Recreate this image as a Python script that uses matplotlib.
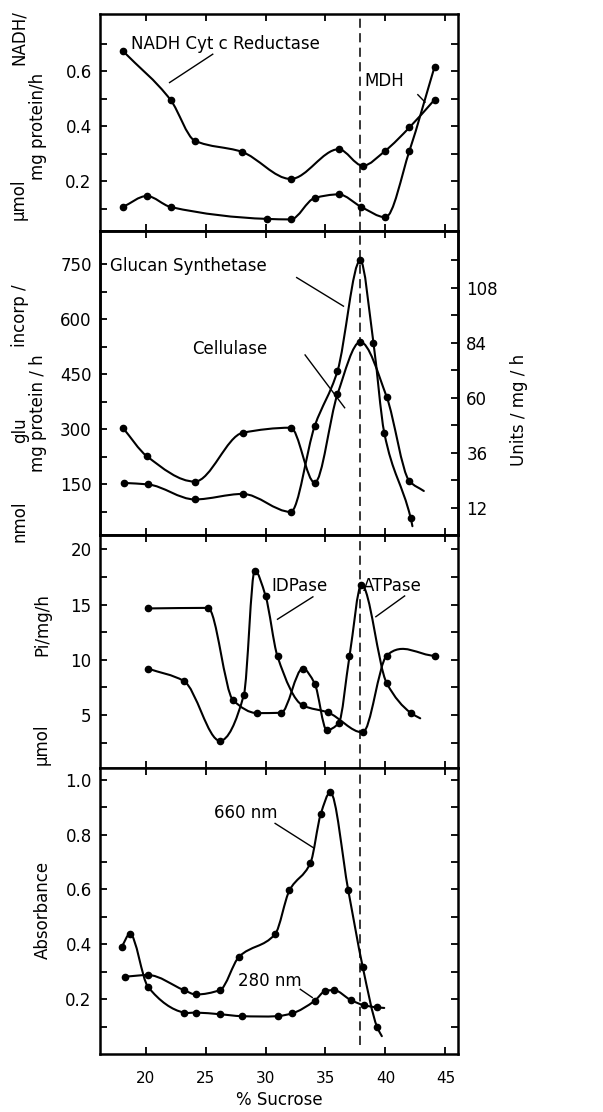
import numpy as np
import matplotlib
matplotlib.use("Agg")
import matplotlib.pyplot as plt
from matplotlib.path import Path
from matplotlib.patches import PathPatch

# ---------------- data ----------------
sucrose_ticks = [20, 25, 30, 35, 40, 45]
sucrose_labels = ["20", "25", "30", "35", "40", "45"]
marker_line = 37.9   # dashed reference line (% sucrose)

# Panel 1: umol NADH / mg protein / h
nadh_x = [18.1, 22.1, 24.1, 28.0, 32.1, 36.1, 38.1, 40.0, 42.0, 44.1]
nadh_y = [0.674, 0.495, 0.348, 0.308, 0.209, 0.317, 0.257, 0.312, 0.396, 0.497]
mdh_x = [18.1, 20.1, 22.1, 30.1, 32.1, 34.1, 36.1, 38.0, 40.0, 42.0, 44.1]
mdh_y = [0.107, 0.147, 0.107, 0.064, 0.062, 0.140, 0.153, 0.107, 0.070, 0.311, 0.617]
p1_ticks = [0.1, 0.2, 0.3, 0.4, 0.5, 0.6, 0.7]
p1_labels = ["", "0.2", "", "0.4", "", "0.6", ""]

# Panel 2: glucan synthetase (nmol glu incorp / mg protein / h) and cellulase (units / mg / h)
glucan_x = [18.2, 20.2, 24.1, 28.1, 32.1, 34.1, 36.0, 37.9, 39.0, 39.9, 42.1]
glucan_y = [154, 150, 109, 124, 75, 309, 459, 761, 536, 291, 59]
glucan_tail = (42.25, 36)
cellulase_x = [18.1, 20.1, 24.1, 28.1, 32.1, 34.1, 36.0, 37.9, 40.1, 42.0]
cellulase_y = [46.9, 34.5, 23.4, 44.7, 46.9, 22.9, 61.5, 84.3, 60.4, 23.6]
cellulase_tail = (43.2, 19.3)
p2_ticks = [75, 150, 225, 300, 375, 450, 525, 600, 675, 750]
p2_labels = ["", "150", "", "300", "", "450", "", "600", "", "750"]
p2r_ticks = [12, 24, 36, 48, 60, 72, 84, 96, 108, 120]
p2r_labels = ["12", "", "36", "", "60", "", "84", "", "108", ""]

# Panel 3: umol Pi / mg / h
idpase_x = [20.2, 23.2, 26.2, 28.2, 29.1, 30.0, 31.0, 33.1, 35.2, 38.1, 40.1, 44.1]
idpase_y = [9.2, 8.07, 2.66, 6.85, 18.07, 15.8, 10.3, 5.87, 5.23, 3.42, 10.37, 10.37]
atpase_x = [20.2, 25.2, 27.3, 29.3, 31.3, 33.1, 34.1, 35.1, 36.1, 37.0, 38.0, 40.1, 42.1]
atpase_y = [14.65, 14.7, 6.33, 5.17, 5.2, 9.2, 7.85, 3.64, 4.25, 10.3, 16.8, 7.9, 5.2]
atpase_tail = (42.9, 4.7)
p3_ticks = [2.5, 5, 7.5, 10, 12.5, 15, 17.5, 20]
p3_labels = ["", "5", "", "10", "", "15", "", "20"]

# Panel 4: absorbance
a660_x = [18.3, 20.2, 23.2, 24.2, 26.2, 27.8, 30.8, 32.0, 33.75, 34.6, 35.4, 36.9, 38.1, 39.3]
a660_y = [0.282, 0.288, 0.233, 0.217, 0.233, 0.355, 0.437, 0.597, 0.697, 0.874, 0.954, 0.597, 0.319, 0.099]
a660_tail = (39.7, 0.065)
a280_x = [18.0, 18.7, 20.2, 23.2, 24.2, 26.2, 28.0, 31.0, 32.2, 34.1, 35.0, 35.7, 37.1, 38.2, 39.3]
a280_y = [0.39, 0.438, 0.245, 0.151, 0.151, 0.145, 0.138, 0.138, 0.148, 0.194, 0.23, 0.233, 0.197, 0.178, 0.17]
a280_tail = (39.9, 0.168)
p4_ticks = [0.1, 0.2, 0.3, 0.4, 0.5, 0.6, 0.7, 0.8, 0.9, 1.0]
p4_labels = ["", "0.2", "", "0.4", "", "0.6", "", "0.8", "", "1.0"]

# ---------------- helpers ----------------
def smooth_path(xs, ys):
    """Smooth Bezier path through the measured points (drawn by matplotlib)."""
    x = np.asarray(xs, float)
    y = np.asarray(ys, float)
    n = len(x)
    h = np.diff(x)
    d = np.diff(y) / h
    m = np.empty(n)
    m[0] = d[0]
    m[-1] = d[-1]
    for i in range(1, n - 1):
        p = d[i - 1] * d[i]
        if p < 0:
            m[i] = 0.0
        elif p == 0:
            m[i] = 0.3 * (d[i - 1] + d[i])
        else:
            w1 = 2 * h[i] + h[i - 1]
            w2 = h[i] + 2 * h[i - 1]
            m[i] = (w1 + w2) / (w1 / d[i - 1] + w2 / d[i])
    # limit overshoot
    for i in range(n - 1):
        if d[i] == 0:
            continue
        a = m[i] / d[i]
        b = m[i + 1] / d[i]
        r = a * a + b * b
        if r > 9:
            t = 3 / np.sqrt(r)
            m[i] = t * a * d[i]
            m[i + 1] = t * b * d[i]
    verts = [(x[0], y[0])]
    codes = [Path.MOVETO]
    for i in range(n - 1):
        hh = h[i]
        verts += [(x[i] + hh / 3, y[i] + m[i] * hh / 3),
                  (x[i + 1] - hh / 3, y[i + 1] - m[i + 1] * hh / 3),
                  (x[i + 1], y[i + 1])]
        codes += [Path.CURVE4] * 3
    return Path(verts, codes)


def draw_series(ax, xs, ys, tail=None):
    lx, ly = list(xs), list(ys)
    if tail is not None:
        lx.append(tail[0])
        ly.append(tail[1])
    ax.add_patch(PathPatch(smooth_path(lx, ly), fill=False, edgecolor="black",
                           lw=1.5, capstyle="round", joinstyle="round"))
    ax.plot(xs, ys, "o", color="black", ms=4.5, ls="none")


def style(ax, right=True, bottom_labels=False):
    ax.set_xlim(16.2, 46.05)
    ax.set_xticks(sucrose_ticks)
    if bottom_labels:
        ax.set_xticklabels(sucrose_labels)
    else:
        ax.set_xticklabels([])
    ax.tick_params(axis="both", which="both", direction="in", length=5, width=1.3,
                   top=True, right=right, labelsize=12, pad=6)
    ax.tick_params(axis="x", labelsize=11, pad=12)
    for s in ax.spines.values():
        s.set_linewidth(1.8)


W, H = 603, 1112
fig = plt.figure(figsize=(W / 100, H / 100), dpi=100)
L = 100 / W
Wd = 358 / W


def frac_box(top_px, bot_px):
    return [L, 1 - bot_px / H, Wd, (bot_px - top_px) / H]


ax1 = fig.add_axes(frac_box(14, 231))
ax2 = fig.add_axes(frac_box(231, 535))
ax3 = fig.add_axes(frac_box(535, 768))
ax4 = fig.add_axes(frac_box(768, 1054))

dash = (0, (6, 3.5))

# ---- Panel 1 ----
style(ax1)
ax1.set_ylim(0.02, 0.808)
ax1.set_yticks(p1_ticks)
ax1.set_yticklabels(p1_labels)
draw_series(ax1, nadh_x, nadh_y)
draw_series(ax1, mdh_x, mdh_y)
ax1.axvline(marker_line, color="black", lw=1.1, ls=dash)
ax1.text(18.75, 0.699, "NADH Cyt c Reductase", fontsize=12, va="center", ha="left")
ax1.plot([25.6, 22.0], [0.662, 0.559], color="black", lw=1)
ax1.text(38.25, 0.563, "MDH", fontsize=12, va="center", ha="left")
ax1.plot([42.7, 43.3], [0.515, 0.488], color="black", lw=1)

# ---- Panel 2 ----
style(ax2, right=False)
ax2.set_ylim(12, 841)
ax2.set_yticks(p2_ticks)
ax2.set_yticklabels(p2_labels)
ax2r = ax2.twinx()
ax2r.set_ylim(0.1, 132.7)
ax2r.set_yticks(p2r_ticks)
ax2r.set_yticklabels(p2r_labels)
ax2r.tick_params(axis="y", direction="in", length=5, width=1.3, labelsize=12, pad=6)
for s in ax2r.spines.values():
    s.set_linewidth(1.8)
draw_series(ax2, glucan_x, glucan_y, glucan_tail)
draw_series(ax2r, cellulase_x, cellulase_y, cellulase_tail)
ax2.axvline(marker_line, color="black", lw=1.1, ls=dash)
ax2.text(17.0, 745, "Glucan Synthetase", fontsize=12, va="center", ha="left")
ax2.plot([32.6, 36.5], [714, 636], color="black", lw=1)
ax2.text(23.9, 518, "Cellulase", fontsize=12, va="center", ha="left")
ax2.plot([33.3, 36.6], [503, 359], color="black", lw=1)

# ---- Panel 3 ----
style(ax3)
ax3.set_ylim(0.2, 21.3)
ax3.set_yticks(p3_ticks)
ax3.set_yticklabels(p3_labels)
draw_series(ax3, idpase_x, idpase_y)
draw_series(ax3, atpase_x, atpase_y, atpase_tail)
ax3.axvline(marker_line, color="black", lw=1.1, ls=dash)
ax3.text(30.45, 16.64, "IDPase", fontsize=12, va="center", ha="left")
ax3.plot([33.95, 31.0], [15.7, 13.67], color="black", lw=1)
ax3.text(38.15, 16.64, "ATPase", fontsize=12, va="center", ha="left")
ax3.plot([41.6, 39.2], [15.78, 13.9], color="black", lw=1)

# ---- Panel 4 ----
style(ax4, bottom_labels=True)
ax4.set_ylim(0.0, 1.043)
ax4.set_yticks(p4_ticks)
ax4.set_yticklabels(p4_labels)
draw_series(ax4, a660_x, a660_y, a660_tail)
draw_series(ax4, a280_x, a280_y, a280_tail)
ax4.axvline(marker_line, ymin=0.03, color="black", lw=1.1, ls=dash)
ax4.text(25.7, 0.878, "660 nm", fontsize=12, va="center", ha="left")
ax4.plot([30.8, 34.0], [0.841, 0.752], color="black", lw=1)
ax4.text(27.7, 0.267, "280 nm", fontsize=12, va="center", ha="left")
ax4.plot([32.9, 33.9], [0.236, 0.206], color="black", lw=1)
ax4.set_xlabel("% Sucrose", fontsize=12, labelpad=4)


# ---- axis titles (placed in pixels) ----
def ftext(px, py, s, **kw):
    fig.text(px / W, 1 - py / H, s, rotation=90, ha="center", va="center", fontsize=12, **kw)


ftext(19, 199, "μmol")
ftext(19, 38, "NADH/")
ftext(38, 126, "mg protein/h")
ftext(20, 521, "nmol")
ftext(20, 430, "glu")
ftext(20, 316, "incorp /")
ftext(38, 413, "mg protein / h")
ftext(42, 744, "μmol")
ftext(42, 625, "Pi/mg/h")
ftext(43, 910, "Absorbance")
ftext(519, 410, "Units / mg / h")

fig.savefig("out.png", dpi=100)
